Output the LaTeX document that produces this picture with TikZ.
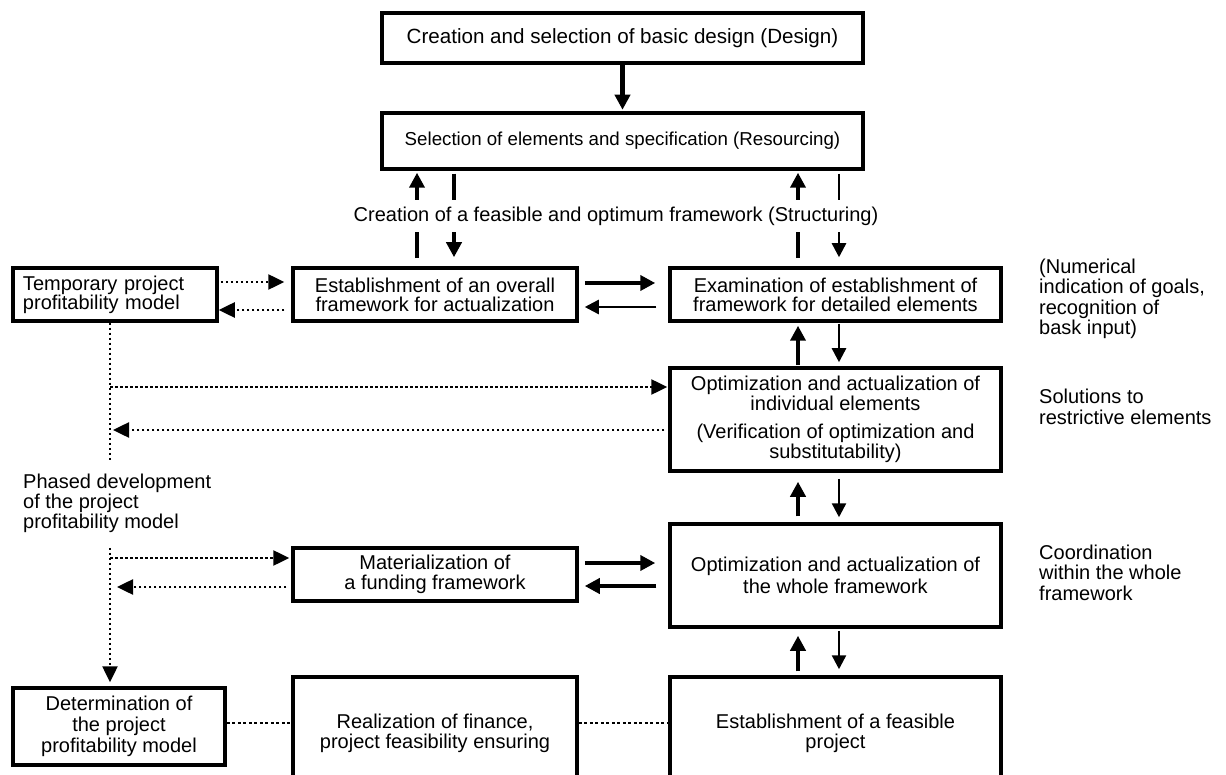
\documentclass[tikz,border=0pt]{standalone}
\usepackage{fontspec}
\setmainfont{Liberation Sans}
\usetikzlibrary{arrows.meta,calc}
\begin{document}
\begin{tikzpicture}[x=1pt,y=-1pt,
  box/.style={draw, line width=3.5pt, inner sep=0pt, align=center, font=\fontsize{20}{19}\selectfont},
  thk/.style={line width=4.5pt, -{Triangle[length=15pt,width=15pt]}},
  thn/.style={line width=2.5pt, -{Triangle[length=14pt,width=14pt]}},
  dotarr/.style={line width=2.5pt, dash pattern=on 2.5pt off 2.5pt, -{Triangle[length=16pt,width=15pt]}},
  dotln/.style={line width=2.2pt, dash pattern=on 3pt off 2.5pt},
  side/.style={anchor=west, align=left, inner sep=0pt, font=\fontsize{20}{20.5}\selectfont}]
\fill[white] (0,0) rectangle (1226,775);
\useasboundingbox (0,0) rectangle (1226,775);
\clip (0,0) rectangle (1226,775);

% boxes
\node[box, minimum width=481pt, minimum height=50pt, font=\fontsize{20.6}{20}\selectfont] (design) at (622.5,38) {Creation and selection of basic design (Design)};
\node[box, minimum width=481pt, minimum height=56pt, font=\fontsize{18.7}{19}\selectfont] (res) at (622.5,141) {Selection of elements and specification (Resourcing)};
\node[box, minimum width=204pt, minimum height=53pt, text width=184pt, align=left] (temp) at (115,294.5) {Temporary project\\profitability model};
\node[box, minimum width=284pt, minimum height=53pt] (overall) at (435,294.5) {Establishment of an overall\\framework for actualization};
\node[box, minimum width=331pt, minimum height=53pt] (exam) at (835.5,294.5) {Examination of establishment of\\framework for detailed elements};
\node[box, minimum width=331pt, minimum height=103pt, font=\fontsize{20}{20}\selectfont] (opti) at (835.5,419.5) {Optimization and actualization of\\individual elements\\[8pt](Verification of optimization and\\substitutability)};
\node[box, minimum width=331pt, minimum height=103pt, font=\fontsize{20}{22}\selectfont] (whole) at (835.5,575.5) {Optimization and actualization of\\the whole framework};
\node[box, minimum width=284pt, minimum height=53pt, font=\fontsize{20}{20}\selectfont] (mat) at (435,574.5) {Materialization of\\a funding framework};
\node[box, minimum width=212pt, minimum height=77pt, font=\fontsize{20}{21}\selectfont] (det) at (119,726.5) {Determination of\\the project\\profitability model};
\node[box, minimum width=284pt, minimum height=113pt, font=\fontsize{20}{20}\selectfont] (real) at (435,733.5) {Realization of finance,\\project feasibility ensuring};
\node[box, minimum width=331pt, minimum height=113pt, font=\fontsize{20}{20}\selectfont] (feas) at (835.5,733.5) {Establishment of a feasible\\project};

% side notes
\node[side] (num) at (1039,299) {(Numerical\\indication of goals,\\recognition of\\bask input)};
\node[side] (sol) at (1039,407) {Solutions to\\restrictive elements};
\node[side] (coord) at (1039,572.5) {Coordination\\within the whole\\framework};

% top arrows
\draw[thk, shorten >=1.5pt] (design.south) -- (res.north);
\draw[thk, shorten <=8pt, shorten >=2pt] ($(overall.north)+(-18,0)$) -- ($(res.south)+(-205.5,0)$);
\draw[thk, shorten <=3pt, shorten >=9pt] ($(res.south)+(-168.5,0)$) -- ($(overall.north)+(19,0)$);
\draw[thk, shorten <=8pt, shorten >=2pt] ($(exam.north)+(-37.5,0)$) -- ($(res.south)+(175.5,0)$);
\draw[thn, shorten <=3pt, shorten >=9pt] ($(res.south)+(216.5,0)$) -- ($(exam.north)+(3.5,0)$);
\node[fill=white, inner xsep=2pt, minimum height=32pt, font=\fontsize{20}{20}\selectfont] (struct) at (616,216) {Creation of a feasible and optimum framework (Structuring)};

% right column arrows
\draw[thk, shorten <=1pt, shorten >=3pt] ($(opti.north)+(-37.5,0)$) -- ($(exam.south)+(-37.5,0)$);
\draw[thn, shorten <=1pt, shorten >=4pt] ($(exam.south)+(3.5,0)$) -- ($(opti.north)+(3.5,0)$);
\draw[thk, shorten <=6pt, shorten >=9pt] ($(whole.north)+(-37.5,0)$) -- ($(opti.south)+(-37.5,0)$);
\draw[thn, shorten <=6pt, shorten >=5pt] ($(opti.south)+(3.5,0)$) -- ($(whole.north)+(3.5,0)$);
\draw[thk, shorten <=4pt, shorten >=7pt] ($(feas.north)+(-37.5,0)$) -- ($(whole.south)+(-37.5,0)$);
\draw[thn, shorten <=2pt, shorten >=6pt] ($(whole.south)+(3.5,0)$) -- ($(feas.north)+(3.5,0)$);

% horizontal arrows
\draw[thk, shorten <=6pt, shorten >=13pt] ($(overall.east)+(0,-11.5)$) -- ($(exam.west)+(0,-11.5)$);
\draw[thn, shorten <=12pt, shorten >=6pt] ($(exam.west)+(0,12.5)$) -- ($(overall.east)+(0,12.5)$);
\draw[thk, shorten <=6pt, shorten >=13pt] ($(mat.east)+(0,-11.5)$) -- ($(whole.west)+(0,-12.5)$);
\draw[thk, shorten <=12pt, shorten >=6pt] ($(whole.west)+(0,10.5)$) -- ($(mat.east)+(0,11.5)$);

% dotted
\draw[dotarr, shorten <=2pt, shorten >=7pt] ($(temp.east)+(0,-12.5)$) -- ($(overall.west)+(0,-12.5)$);
\draw[dotarr, shorten <=7pt] ($(overall.west)+(0,15.5)$) -- ($(temp.east)+(0,15.5)$);
\draw[dotarr, shorten >=4pt] ($(temp.south)+(-5,0)$) -- ($(det.north)+(-9,0)$);
\node[fill=white, anchor=west, align=left, inner xsep=0pt, minimum height=83pt, font=\fontsize{20}{20}\selectfont] (phase) at (23,503.5) {Phased development\\of the project\\profitability model};
\coordinate (v1) at (110,387);
\coordinate (v2) at (110,430);
\coordinate (v3) at (110,558);
\coordinate (v4) at (110,587);
\draw[dotarr, shorten >=1pt] (v1) -- (opti.west |- v1);
\draw[dotarr, shorten <=4pt, shorten >=3pt] (opti.west |- v2) -- (v2);
\draw[dotarr, shorten >=2pt] (v3) -- (mat.west |- v3);
\draw[dotarr, shorten <=5pt, shorten >=7pt] (mat.west |- v4) -- (v4);
\draw[dotln] ($(det.east)+(0,-3.5)$) -- ($(real.west)+(0,-10.5)$);
\draw[dotln] ($(real.east)+(0,-10.5)$) -- ($(feas.west)+(0,-10.5)$);
\end{tikzpicture}
\end{document}
